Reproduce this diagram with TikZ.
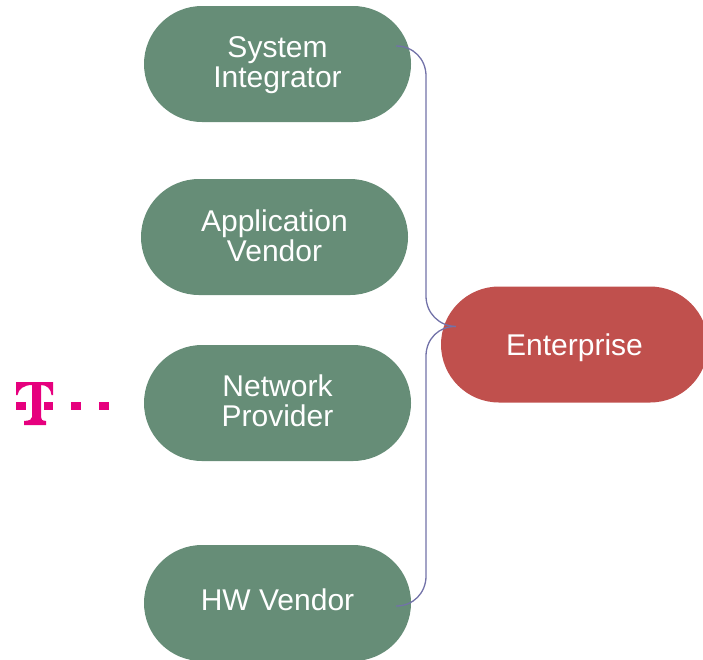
\documentclass[tikz,border=0pt]{standalone}
\usepackage{fontspec}
\setmainfont{Liberation Sans}
\definecolor{nodegreen}{HTML}{668D77}
\definecolor{nodered}{HTML}{C0504D}
\definecolor{linkblue}{HTML}{7272A8}
\definecolor{tmagenta}{HTML}{E6007E}
\tikzset{
  box/.style={rectangle,rounded corners=58pt,minimum width=267pt,minimum height=116pt,inner sep=0pt},
  greenbox/.style={box,fill=nodegreen},
  redbox/.style={box,fill=nodered},
  boxtext/.style={text=white,align=center,inner sep=0pt,font=\fontsize{30pt}{30pt}\selectfont},
  link/.style={draw=linkblue,line width=1.3pt},
  logo/.style={fill=tmagenta,draw=none}
}
\begin{document}
\begin{tikzpicture}[x=1pt,y=-1pt]
\useasboundingbox (0,0) rectangle (703,659);
\clip (0,0) rectangle (703,659);
\node[greenbox,label={[boxtext,yshift=-1pt]center:System\\Integrator}] (si) at (277.5,64) {};
\node[greenbox,label={[boxtext,yshift=1.5pt]center:Application\\Vendor}] (av) at (274.5,237) {};
\node[greenbox,label={[boxtext,yshift=2.5pt]center:Network\\Provider}] (np) at (277.5,403) {};
\node[greenbox,label={[boxtext,yshift=3pt]center:HW Vendor}] (hw) at (277.5,603) {};
\node[redbox,label={[boxtext,yshift=-3pt]center:Enterprise}] (en) at (574.5,344.5) {};
\coordinate (siout) at ([xshift=-15pt,yshift=18pt]si.east);
\coordinate (hwout) at ([xshift=-15pt,yshift=-3pt]hw.east);
\coordinate (enin) at ([xshift=15pt,yshift=18pt]en.west);
\draw[link] (siout) .. controls +(17,0) and (426,59) .. (426,76) -- (426,296) .. controls (426,313) and (439,326) .. (enin);
\draw[link] (hwout) .. controls +(17,0) and (426,593) .. (426,576) -- (426,356) .. controls (426,339) and (439,326) .. (enin);
% T logo
\fill[logo] (16,382) -- (53,382) -- (53,395) -- (51.5,395) .. controls (51,389) and (47,385) .. (41,385) -- (41,417) .. controls (41,419.5) and (42,420.5) .. (46,421) -- (46,425) -- (24,425) -- (24,421) .. controls (30,420.5) and (32,419.5) .. (32,417) -- (32,385) .. controls (24,385) and (18.5,389) .. (17.5,395) -- (16,395) -- cycle;
\fill[logo] (16,402) rectangle (26,410);
\fill[logo] (44,402) rectangle (53,410);
\fill[logo] (71,402) rectangle (81,410);
\fill[logo] (99,402) rectangle (109,410);
\end{tikzpicture}
\end{document}
